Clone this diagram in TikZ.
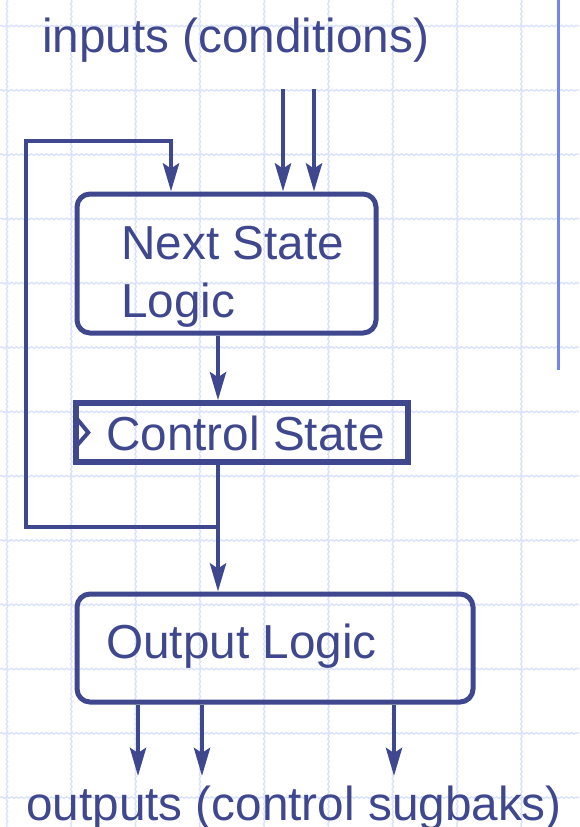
\documentclass[tikz,border=0pt]{standalone}
\usepackage{fontspec}
\setmainfont{Liberation Sans}
\usetikzlibrary{arrows.meta,positioning,calc,decorations.pathmorphing}
\definecolor{slateblue}{RGB}{63,72,142}
\definecolor{gridblue}{RGB}{218,226,252}
\definecolor{railblue}{RGB}{112,136,236}

\begin{document}
\begin{tikzpicture}[x=1pt, y=-1pt,
  every node/.style={font=\fontsize{47.7}{58}\selectfont, text=slateblue, inner sep=0pt},
  gridline/.style={gridblue, line width=1.4pt, decorate, decoration={snake, amplitude=0.7pt, segment length=5pt}},
  wire/.style={slateblue, line width=4.5pt},
  arr/.style={wire, -{Stealth[length=28pt, width=16pt, inset=5pt]}},
  logicbox/.style={draw=slateblue, line width=5pt, rounded corners=13pt},
  regbox/.style={draw=slateblue, line width=5.5pt},
  txt/.style={anchor=base west}]
  \useasboundingbox (0,0) rectangle (579,827);
  % 背景网格
  \foreach \gx in {7,71.3,...,530} \draw[gridline] (\gx,0) -- (\gx,827);
  \foreach \gy in {26,90.3,...,810} \draw[gridline] (0,\gy) -- (579,\gy);
  \draw[railblue, line width=3pt] (558,0) -- (558,370);
  % 标题
  \node[txt] (inputs) at (42,52) {inputs (conditions)};
  \node[txt] (outputs) at (26,820) {outputs (control sugbaks)};
  % Next State Logic
  \node[logicbox, minimum width=299pt, minimum height=139pt] (nsl) at (226.5,263.5) {};
  \node[txt] (nsltop) at (121,259) {Next State};
  \node[txt] (nslbot) at (121,317) {Logic};
  % Control State 寄存器
  \node[regbox, minimum width=332pt, minimum height=59pt] (cs) at (242,432.5) {};
  \node[txt] (cstext) at (106,450) {Control State};
  \draw[wire, line width=4pt] (cs.west) ++(1,-17) -- ++(14,17) -- ++(-14,16);
  % Output Logic
  \node[logicbox, minimum width=396pt, minimum height=108pt] (ol) at (275,648) {};
  \node[txt] (oltext) at (106,658) {Output Logic};
  % 连线
  \coordinate (tap) at (218,527);
  \coordinate (fbtop) at (26,141);
  \coordinate (fbx) at (171,141);
  \foreach \ix in {283,314} {
    \coordinate (in\ix) at (\ix,89);
    \draw[arr] (in\ix) -- (in\ix |- nsl.north);
  }
  \draw[arr] (tap |- nsl.south) -- (tap |- cs.north);
  \draw[arr] (tap |- cs.south) -- (tap |- ol.north);
  \draw[arr] (tap) -| (fbtop) -- (fbx) -- (fbx |- nsl.north);
  \foreach \ox in {138,202,394} {
    \coordinate (out\ox) at (\ox,776);
    \draw[arr] (out\ox |- ol.south) -- (out\ox);
  }
\end{tikzpicture}
\end{document}
